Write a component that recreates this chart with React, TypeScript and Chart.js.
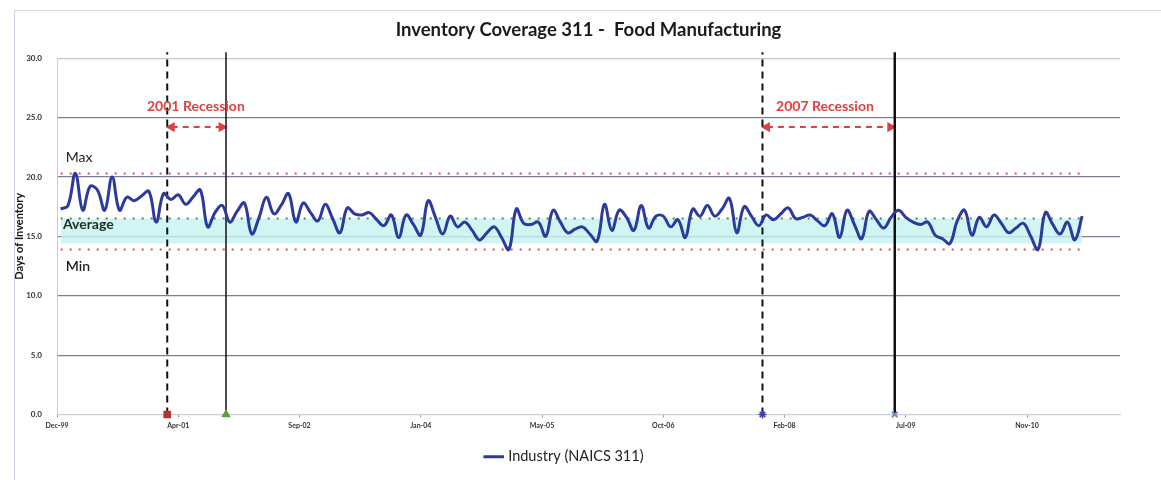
import { useEffect, useRef } from 'react';
import { Chart, registerables } from 'chart.js';

Chart.register(...registerables);

// ---- Data ----
// Monthly days-of-inventory, Dec-1999 .. Jul-2011
const industry: number[] = [
  17.3, 17.6, 20.3, 17.2, 19.2, 18.9, 17.2, 20.0, 17.2, 18.3,
  18.0, 18.4, 18.8, 16.2, 18.6, 18.1, 18.5, 17.7, 18.3, 18.9,
  15.8, 17.0, 17.6, 16.2, 17.1, 17.8, 15.2, 16.6, 18.3, 16.9,
  17.6, 18.6, 16.2, 17.8, 17.0, 16.3, 17.7, 16.5, 15.3, 17.4,
  16.9, 16.8, 17.0, 16.4, 15.9, 16.8, 14.9, 16.8, 16.0, 15.1,
  18.0, 16.6, 15.2, 16.7, 15.8, 16.2, 15.5, 14.7, 15.3, 15.8,
  14.9, 13.9, 17.3, 16.1, 16.0, 16.2, 15.0, 17.2, 16.2, 15.3,
  15.6, 15.8, 15.2, 14.6, 17.7, 15.5, 17.2, 16.6, 15.5, 17.6,
  15.7, 16.7, 16.7, 15.8, 16.4, 14.9, 17.3, 16.7, 17.6, 16.7,
  17.3, 18.2, 15.3, 17.5, 16.7, 15.9, 16.8, 16.4, 16.9, 17.4,
  16.5, 16.6, 16.8, 16.3, 15.9, 16.9, 14.9, 17.2, 16.0, 14.8,
  17.1, 16.4, 15.7, 16.6, 17.2, 16.6, 16.2, 16.0, 16.2, 15.1,
  14.8, 14.4, 16.3, 17.2, 15.1, 16.6, 15.8, 16.8, 16.1, 15.3,
  15.7, 16.1, 15.0, 13.9, 17.0, 16.0, 15.2, 16.2, 14.7, 16.7,
];

const tickLabels: string[] = ['Dec-99', 'Apr-01', 'Sep-02', 'Jan-04', 'May-05', 'Oct-06', 'Feb-08', 'Jul-09', 'Nov-10'];
const tickStepMonths = 16.5;
const yTicks: number[] = [0, 5, 10, 15, 20, 25, 30];

const maxLevel = 20.3;
const avgLevel = 16.5;
const minLevel = 13.9;
const bandLow = 14.4;

// recession markers, in months after Dec-1999
const recession2001 = [15, 23];
const recession2007 = [96, 114];
const vLineTop = 30.5;
const arrowLevel = 24.2;

const seriesLabel = 'Industry (NAICS 311)';
const chartTitle = 'Inventory Coverage 311 -  Food Manufacturing';

const FONT = 'Lato, "Noto Sans", "DejaVu Sans", sans-serif';

export default function App() {
  const ref = useRef<HTMLCanvasElement | null>(null);

  useEffect(() => {
    if (!ref.current) return;
    const offset = 0.5;
    const firstX = offset;
    const lastX = industry.length - 1 + offset;
    const pts = industry.map((v, i) => ({ x: i + offset, y: v }));
    const level = (v: number) => [{ x: firstX, y: v }, { x: lastX, y: v }];
    const vline = (m: number) => [{ x: m, y: 0 }, { x: m, y: vLineTop }];

    const notes = [
      { text: 'Max', x: 1.2, y: 21.6, font: `14px ${FONT}`, color: '#222', align: 'left' },
      { text: 'Average', x: 0.8, y: 16.0, font: `bold 14px ${FONT}`, color: '#1f2a22', align: 'left' },
      { text: 'Min', x: 1.2, y: 12.5, font: `600 14px ${FONT}`, color: '#222', align: 'left' },
      { text: '2001 Recession', x: 18.9, y: 25.9, font: `bold 14px ${FONT}`, color: '#e0403f', align: 'center' },
      { text: '2007 Recession', x: 104.5, y: 25.9, font: `bold 14px ${FONT}`, color: '#e0403f', align: 'center' },
    ];

    const notesPlugin = {
      id: 'notes',
      afterDatasetsDraw(chart: any) {
        const { ctx, scales } = chart;
        ctx.save();
        for (const n of notes) {
          ctx.font = n.font;
          ctx.fillStyle = n.color;
          ctx.textAlign = n.align as CanvasTextAlign;
          ctx.textBaseline = 'middle';
          ctx.fillText(n.text, scales.x.getPixelForValue(n.x), scales.y.getPixelForValue(n.y));
        }
        ctx.restore();
      },
    };

    const chart = new Chart(ref.current, {
      type: 'line',
      data: {
        datasets: [
          {
            label: seriesLabel,
            data: pts,
            borderColor: '#2b3a9c',
            backgroundColor: '#2b3a9c',
            borderWidth: 3,
            pointRadius: 0,
            tension: 0.4,
            order: 0,
          },
          {
            label: 'r2001s',
            data: vline(recession2001[0]),
            borderColor: '#111',
            borderWidth: 2,
            borderDash: [7, 5],
            pointRadius: [4, 0],
            pointStyle: 'rect',
            pointBackgroundColor: '#b8322e',
            pointBorderColor: '#b8322e',
            clip: false,
            order: 1,
          },
          {
            label: 'r2001e',
            data: vline(recession2001[1]),
            borderColor: '#111',
            borderWidth: 1.5,
            pointRadius: [4, 0],
            pointStyle: 'triangle',
            pointBackgroundColor: '#5e9e3c',
            pointBorderColor: '#5e9e3c',
            clip: false,
            order: 1,
          },
          {
            label: 'r2007s',
            data: vline(recession2007[0]),
            borderColor: '#111',
            borderWidth: 2,
            borderDash: [7, 5],
            pointRadius: [4, 0],
            pointStyle: 'star',
            pointBorderWidth: 1.5,
            pointBackgroundColor: '#3c3ca8',
            pointBorderColor: '#3c3ca8',
            clip: false,
            order: 1,
          },
          {
            label: 'r2009e',
            data: vline(recession2007[1]),
            borderColor: '#111',
            borderWidth: 2.5,
            pointRadius: [4, 0],
            pointStyle: 'crossRot',
            pointBorderWidth: 2,
            pointBackgroundColor: '#6e92d0',
            pointBorderColor: '#6e92d0',
            clip: false,
            order: 1,
          },
          {
            label: 'arrow2001',
            data: [{ x: recession2001[0] + 0.6, y: arrowLevel }, { x: recession2001[1] - 0.6, y: arrowLevel }],
            borderColor: '#e0403f',
            borderWidth: 2,
            borderDash: [6, 5],
            pointRadius: 4,
            pointStyle: 'triangle',
            pointRotation: [-90, 90],
            pointBackgroundColor: '#e0403f',
            pointBorderColor: '#e0403f',
            order: 2,
          },
          {
            label: 'arrow2007',
            data: [{ x: recession2007[0] + 0.6, y: arrowLevel }, { x: recession2007[1] - 0.6, y: arrowLevel }],
            borderColor: '#e0403f',
            borderWidth: 2,
            borderDash: [6, 5],
            pointRadius: 4,
            pointStyle: 'triangle',
            pointRotation: [-90, 90],
            pointBackgroundColor: '#e0403f',
            pointBorderColor: '#e0403f',
            order: 2,
          },
          {
            label: 'max',
            data: level(maxLevel),
            borderColor: '#e04a55',
            borderWidth: 2,
            borderDash: [2, 7],
            pointRadius: 0,
            order: 3,
          },
          {
            label: 'avg',
            data: level(avgLevel),
            borderColor: '#5d7a68',
            borderWidth: 2,
            borderDash: [2, 7],
            pointRadius: 0,
            order: 3,
          },
          {
            label: 'min',
            data: level(minLevel),
            borderColor: '#e04a55',
            borderWidth: 2,
            borderDash: [2, 7],
            pointRadius: 0,
            order: 3,
          },
          {
            label: 'band',
            data: level(avgLevel),
            borderWidth: 0,
            borderColor: 'rgba(0,0,0,0)',
            backgroundColor: 'rgba(196, 242, 240, 0.8)',
            pointRadius: 0,
            fill: { value: bandLow },
            order: 4,
          },
        ],
      },
      options: {
        animation: false,
        responsive: true,
        maintainAspectRatio: false,
        events: [],
        layout: { padding: { left: 10, right: 41, top: 0, bottom: 6 } },
        plugins: {
          tooltip: { enabled: false },
          title: {
            display: true,
            fullSize: false,
            text: chartTitle,
            color: '#1a1a1a',
            font: { family: FONT, size: 18.5, weight: 'bold' },
            padding: { top: 19, bottom: 17 },
          },
          legend: {
            position: 'bottom',
            labels: {
              filter: (item: any) => item.datasetIndex === 0,
              usePointStyle: true,
              pointStyle: 'line',
              boxWidth: 16,
              color: '#222',
              font: { family: FONT, size: 14.5 },
              padding: 10,
            },
          },
        },
        scales: {
          x: {
            type: 'linear',
            min: 0,
            max: 144.65,
            afterBuildTicks: (s: any) => {
              s.ticks = tickLabels.map((_, k) => ({ value: k * tickStepMonths }));
            },
            afterFit: (s: any) => {
              s.height = 25;
            },
            ticks: {
              autoSkip: false,
              maxRotation: 0,
              callback: (_v: any, idx: number) => tickLabels[idx] ?? '',
              color: '#333',
              font: { family: FONT, size: 7, weight: 'bold' },
              padding: 4,
            },
            grid: { drawOnChartArea: false, drawTicks: true, tickLength: 3, color: '#9a9aa8' },
            border: { color: '#c9ccd6' },
          },
          y: {
            min: 0,
            max: 30,
            afterBuildTicks: (s: any) => {
              s.ticks = yTicks.map((v) => ({ value: v }));
            },
            afterFit: (s: any) => {
              s.width = 47;
            },
            ticks: {
              callback: (v: any) => Number(v).toFixed(1),
              color: '#333',
              font: { family: FONT, size: 8, weight: 'bold' },
              padding: 15,
            },
            grid: {
              drawTicks: false,
              lineWidth: 1.2,
              color: (c: any) =>
                c.tick && c.tick.value === 0
                  ? '#d0d2da'
                  : c.tick && c.tick.value === 30
                  ? '#c4c6d2'
                  : '#7a8098',
            },
            border: { color: '#c9ccd6' },
            title: {
              display: true,
              text: 'Days of Inventory',
              color: '#111',
              font: { family: FONT, size: 11, weight: 'bold' },
              padding: { top: 3, bottom: 0 },
            },
          },
        },
      },
      plugins: [notesPlugin],
    } as any);

    return () => chart.destroy();
  }, []);

  return (
    <div style={{ position: 'fixed', left: 0, top: 0, width: 1161, height: 480, background: '#fff' }}>
      <div style={{ position: 'absolute', left: 14, top: 10, width: 1, height: 470, background: '#c8cfe2' }} />
      <div style={{ position: 'absolute', left: 14, top: 10, width: 1147, height: 1, background: '#d4d6de' }} />
      <div style={{ position: 'absolute', left: 0, top: 0, width: 1161, height: 480 }}>
        <canvas ref={ref} />
      </div>
    </div>
  );
}
